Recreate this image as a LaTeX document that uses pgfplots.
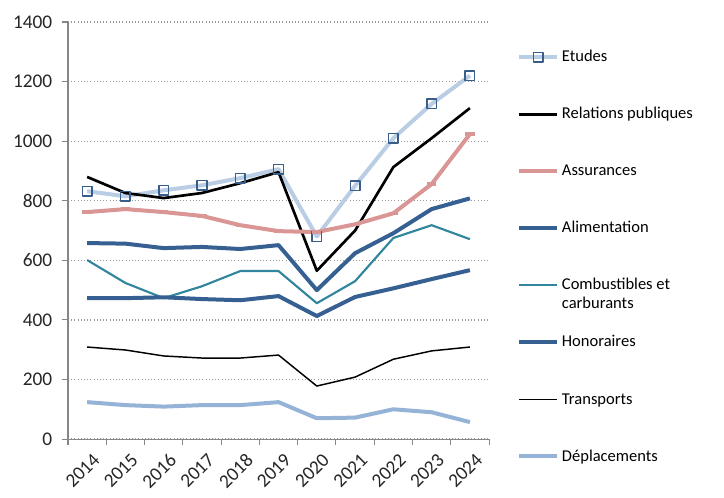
\documentclass[border=0pt]{standalone}
\usepackage{fontspec}
\setmainfont{Carlito}
\usepackage{pgfplots}
\pgfplotsset{compat=1.18}

\definecolor{etudes}{RGB}{185,205,229}
\definecolor{etudesmk}{RGB}{56,93,138}
\definecolor{assur}{RGB}{217,150,148}
\definecolor{darkblue}{RGB}{55,96,146}
\definecolor{teal}{RGB}{49,133,156}
\definecolor{deplac}{RGB}{149,179,215}
\definecolor{axisgray}{RGB}{134,134,134}

\begin{document}
\fontsize{12.4}{14}\selectfont
\begin{tikzpicture}
\begin{axis}[
    scale only axis, width=315.75pt, height=312.75pt,
    xmin=-0.5, xmax=10.5, ymin=0, ymax=1400,
    xtick={0,...,10},
    xticklabels={2014,2015,2016,2017,2018,2019,2020,2021,2022,2023,2024},
    minor xtick={-0.5,0.5,...,10.5},
    ytick={0,200,...,1400},
    axis x line*=bottom, axis y line*=left,
    axis line style={draw=axisgray, line width=0.8pt, -},
    tick align=outside,
    major x tick style={draw=none},
    minor x tick style={draw=axisgray, line width=0.8pt},
    y tick style={draw=axisgray, line width=0.8pt},
    major tick length=4.5pt, minor tick length=4.5pt,
    ymajorgrids,
    major grid style={draw=gray!80, dotted, line width=1pt},
    /pgf/number format/assume math mode=true,
    /pgf/number format/1000 sep={},
    tick label style={font=\fontsize{14.5}{16}\selectfont, text=black!85},
    yticklabel style={xshift=-3pt},
    xticklabel style={rotate=45, anchor=north east, xshift=3pt, yshift=-2pt},
    legend cell align=left,
    legend style={at={(rel axis cs:1,1)}, anchor=north west,
        xshift=21pt, yshift=-19.75pt, draw=none, fill=none, inner sep=0pt,
        row sep=29.75pt,
        nodes={inner xsep=2pt, inner ysep=0pt, text height=10pt, text depth=3pt,
               font=\fontsize{12.4}{14}\selectfont}},
    legend image code/.code={
        \draw[mark repeat=2, mark phase=2] plot coordinates {(0cm,0cm)(0.5cm,0cm)(1cm,0cm)};},
    every axis plot/.append style={line join=round},
]
\coordinate (bl) at (rel axis cs:-0.1615,-0.1199);
\coordinate (tr) at (rel axis cs:1.558,1.0528);

\addplot[etudes, line width=3pt, mark=square, mark size=3.6pt,
    mark options={draw=etudesmk, fill=white, line width=1.1pt}] coordinates {
    (0,832)(1,815)(2,835)(3,852)(4,876)(5,906)(6,680)(7,850)(8,1010)(9,1125)(10,1220)};
\addlegendentry{Etudes}

\addplot[black, line width=2pt] coordinates {
    (0,880)(1,826)(2,809)(3,826)(4,859)(5,896)(6,565)(7,700)(8,913)(9,1010)(10,1111)};
\addlegendentry{Relations publiques}

\addplot[assur, line width=3pt, mark=-, mark size=3.5pt,
    mark options={line width=2.5pt}] coordinates {
    (0,762)(1,772)(2,762)(3,749)(4,718)(5,698)(6,695)(7,721)(8,758)(9,856)(10,1024)};
\addlegendentry{Assurances}

\addplot[darkblue, line width=3pt] coordinates {
    (0,658)(1,656)(2,641)(3,645)(4,638)(5,651)(6,500)(7,624)(8,691)(9,772)(10,808)};
\addlegendentry{Alimentation}

\addplot[teal, line width=1.6pt] coordinates {
    (0,601)(1,524)(2,473)(3,513)(4,564)(5,564)(6,456)(7,530)(8,675)(9,718)(10,671)};
\addlegendentry{\begin{tabular}[t]{@{}l@{}}Combustibles et\\carburants\end{tabular}}

\addplot[darkblue, line width=3pt] coordinates {
    (0,473)(1,473)(2,476)(3,470)(4,466)(5,480)(6,413)(7,477)(8,506)(9,537)(10,567)};
\addlegendentry{Honoraires}

\addplot[black, line width=1.1pt] coordinates {
    (0,309)(1,299)(2,279)(3,272)(4,272)(5,282)(6,178)(7,208)(8,268)(9,296)(10,309)};
\addlegendentry{Transports}

\addplot[deplac, line width=3pt] coordinates {
    (0,124)(1,114)(2,109)(3,114)(4,114)(5,124)(6,70)(7,72)(8,100)(9,90)(10,57)};
\addlegendentry{Déplacements}
\end{axis}
\path (bl) rectangle (tr);
\end{tikzpicture}
\end{document}
